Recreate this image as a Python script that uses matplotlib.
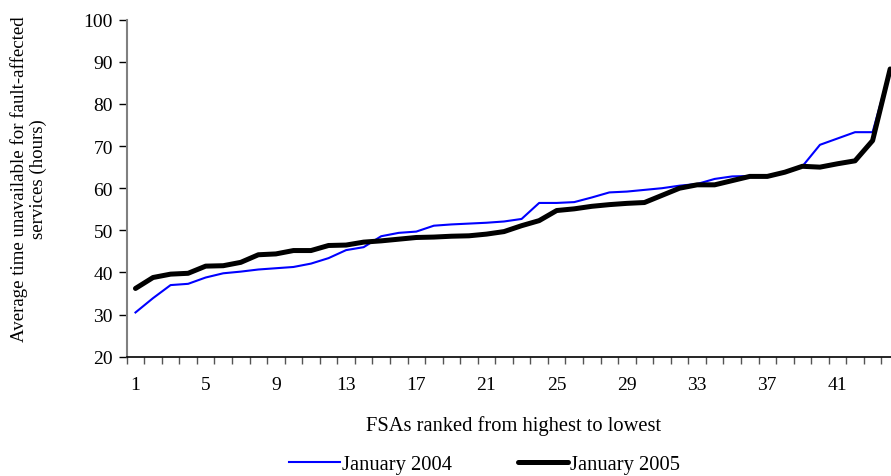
import numpy as np
import matplotlib.pyplot as plt

plt.rcParams['font.family'] = ['Liberation Serif', 'DejaVu Serif']

# FSA rank 1..44
ranks = list(range(1, 45))

jan_2004 = [30.5, 33.9, 37.0, 37.3, 38.8, 39.8, 40.2, 40.7, 41.0, 41.3,
            42.1, 43.4, 45.3, 46.0, 48.6, 49.4, 49.7, 51.1, 51.4, 51.6,
            51.8, 52.1, 52.7, 56.5, 56.5, 56.7, 57.8, 59.0, 59.2, 59.6,
            60.0, 60.6, 61.0, 62.2, 62.8, 62.9, 63.0, 63.8, 65.2, 70.3,
            71.8, 73.3, 73.3, 88.3]

jan_2005 = [36.2, 38.8, 39.6, 39.8, 41.5, 41.6, 42.4, 44.2, 44.4, 45.2,
            45.2, 46.4, 46.5, 47.2, 47.5, 47.9, 48.3, 48.4, 48.6, 48.7,
            49.1, 49.7, 51.1, 52.3, 54.7, 55.1, 55.7, 56.1, 56.4, 56.6,
            58.3, 60.0, 60.8, 60.8, 61.8, 62.8, 62.8, 63.8, 65.2, 65.0,
            65.8, 66.5, 71.3, 88.3]

tick_labels = [1, 5, 9, 13, 17, 21, 25, 29, 33, 37, 41]

fig = plt.figure(figsize=(8.91, 4.77), dpi=100)
ax = fig.add_axes([0.1422, 0.2501, 0.8667, 0.7065])

ax.plot(ranks, jan_2004, color='#0000ff', lw=1.5, label='January 2004')
ax.plot(ranks, jan_2005, color='black', lw=3.6, label='January 2005',
        solid_joinstyle='round', solid_capstyle='round')

ax.set_xlim(0.5, 44.5)
ax.set_ylim(20, 100)
ax.set_yticks(range(20, 101, 10))

# category boundary ticks, labels at centres (Excel style)
ax.set_xticks(np.arange(0.5, 45, 1))
ax.set_xticklabels([])
ax.set_xticks(tick_labels, minor=True)
ax.set_xticklabels([str(t) for t in tick_labels], minor=True)
ax.tick_params(axis='x', which='major', direction='out', length=5, width=1, color='#555555')
ax.tick_params(axis='x', which='minor', length=0, pad=14, labelsize=14)
ax.tick_params(axis='y', direction='out', length=6, width=1, pad=4, labelsize=14)

for s in ['top', 'right']:
    ax.spines[s].set_visible(False)
ax.spines['left'].set_color('#808080')
ax.spines['left'].set_linewidth(1.5)
ax.spines['bottom'].set_color('black')
ax.spines['bottom'].set_linewidth(1.2)

fig.text(0.032, 0.625, 'Average time unavailable for fault-affected\nservices (hours)',
         rotation=90, ha='center', va='center', fontsize=13.6, linespacing=1.15)
fig.text(0.576, 0.106, 'FSAs ranked from highest to lowest', ha='center', va='center',
         fontsize=14.8)

fig.legend(loc='center', bbox_to_anchor=(0.544, 0.025), ncol=2, frameon=False,
           fontsize=14.8, handlelength=2.45, handletextpad=0.1, columnspacing=3.2)

fig.savefig('out.png', dpi=100)
